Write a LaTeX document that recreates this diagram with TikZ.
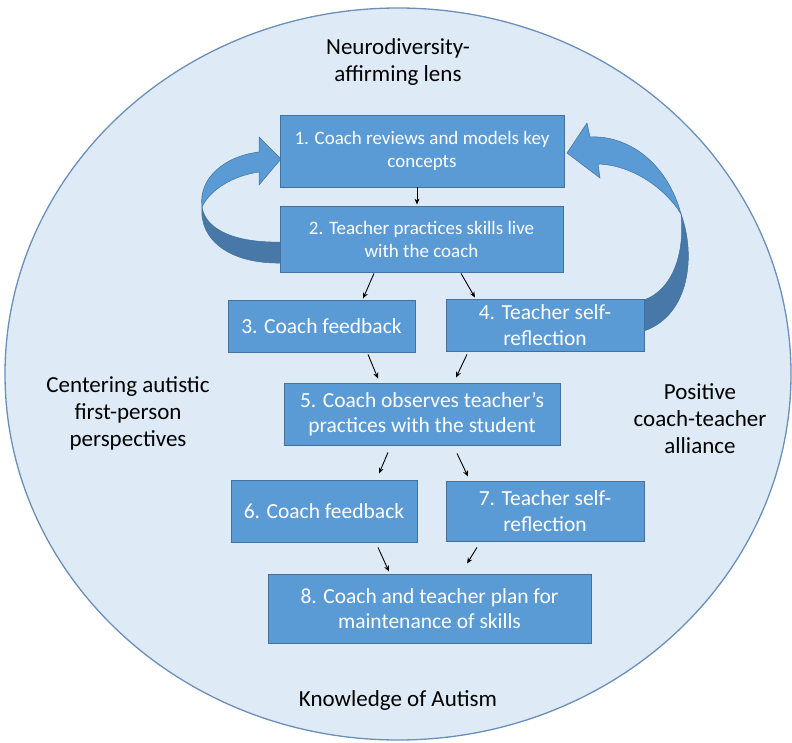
\documentclass[tikz,border=0pt]{standalone}
\usepackage{fontspec}
\setmainfont{Carlito}
\usetikzlibrary{arrows.meta}

\definecolor{ringfill}{HTML}{DEEBF7}
\definecolor{ringline}{HTML}{6A8FBA}
\definecolor{boxfill}{HTML}{5B9BD5}
\definecolor{boxline}{HTML}{41719C}
\definecolor{bandshade}{HTML}{4778A8}

\tikzset{
	stepbox/.style={draw=boxline, line width=0.8pt, fill=boxfill, text=white, align=center,
		inner sep=0pt, font=\fontsize{19}{23}\selectfont},
	bigstep/.style={stepbox, font=\fontsize{21.5}{25.5}\selectfont},
	lens/.style={align=center, text=black, font=\fontsize{23}{27}\selectfont},
	arr/.style={-{Stealth[length=6pt,width=5pt]}, line width=0.9pt, black},
	band/.style={draw=boxline, line width=0.5pt}
}

\begin{document}
\begin{tikzpicture}[x=1pt, y=-1pt]
			%%%%% START %%%%%
			\useasboundingbox (0, 0) rectangle (792, 743);
			
			\draw[fill=ringfill, draw=ringline, line width=1.3pt] (398, 374) ellipse (393 and 366);
			
			\node[lens] (top) at (398, 62) {Neurodiversity-\\affirming lens};
			\node[lens] (left) at (128, 413) {Centering autistic\\first-person\\perspectives};
			\node[lens] (right) at (700, 419) {Positive\\coach-teacher\\alliance};
			\node[lens] (bottom) at (398, 700) {Knowledge of Autism};
			
			% curved arrow on the left, back up to step 1
			\draw[band, fill=boxfill] (202, 207) .. controls (198, 178) and (225, 156) .. (259, 152)
				-- (259, 137) -- (281, 159) -- (259, 185) -- (259, 172)
				.. controls (232, 176) and (210, 190) .. (202, 207) -- cycle;
			\draw[band, fill=bandshade] (202, 207) .. controls (206, 232) and (240, 243) .. (281, 242)
				-- (281, 263) .. controls (230, 264) and (199, 240) .. (202, 207) -- cycle;
			
			% curved arrow on the right, back up to step 1
			\draw[band, fill=boxfill] (567, 153) -- (587, 123) -- (590, 137)
				.. controls (630, 135) and (668, 165) .. (681, 214)
				.. controls (665, 188) and (632, 165) .. (598, 164) -- (600, 178) -- cycle;
			\draw[band, fill=bandshade] (681, 214) .. controls (696, 255) and (690, 315) .. (644, 331)
				-- (644, 300) .. controls (672, 290) and (685, 255) .. (681, 214) -- cycle;
			
			\node[stepbox, minimum width=284, minimum height=72] (b1) at (422, 151) {1. Coach reviews and models key\\concepts};
			\node[stepbox, minimum width=283, minimum height=66] (b2) at (421.5, 239) {2. Teacher practices skills live\\with the coach};
			\node[bigstep, minimum width=187, minimum height=52] (b3) at (321.5, 326) {3. Coach feedback};
			\node[bigstep, minimum width=198, minimum height=52] (b4) at (545, 325) {4. Teacher self-\\reflection};
			\node[bigstep, minimum width=276, minimum height=62] (b5) at (422, 414) {5. Coach observes teacher’s\\practices with the student};
			\node[bigstep, minimum width=186, minimum height=62] (b6) at (324, 511) {6. Coach feedback};
			\node[bigstep, minimum width=198, minimum height=60] (b7) at (545, 511) {7. Teacher self-\\reflection};
			\node[bigstep, minimum width=323, minimum height=69] (b8) at (429.5, 608.5) {8. Coach and teacher plan for\\maintenance of skills};
			
			\draw[arr] ([xshift=-5pt]b1.south) -- ([xshift=-4.5pt, yshift=1pt]b2.north);
			\draw[arr] ([xshift=-47.5pt, yshift=-1pt]b2.south) -- ([xshift=41.5pt, yshift=1pt]b3.north);
			\draw[arr] ([xshift=39.5pt, yshift=-1pt]b2.south) -- ([xshift=-70pt, yshift=1pt]b4.north);
			\draw[arr] ([xshift=46.5pt, yshift=-2pt]b3.south) -- ([xshift=-44pt, yshift=4pt]b5.north);
			\draw[arr] ([xshift=-78pt, yshift=-3pt]b4.south) -- ([xshift=34pt, yshift=5pt]b5.north);
			\draw[arr] ([xshift=-34pt, yshift=-7pt]b5.south) -- ([xshift=55pt, yshift=6pt]b6.north);
			\draw[arr] ([xshift=35pt, yshift=-8pt]b5.south) -- ([xshift=-77pt, yshift=4pt]b7.north);
			\draw[arr] ([xshift=54pt, yshift=-5pt]b6.south) -- ([xshift=-40.5pt, yshift=2pt]b8.north);
			\draw[arr] ([xshift=-68pt, yshift=-6pt]b7.south) -- ([xshift=37.5pt, yshift=10pt]b8.north);
			%%%%% END %%%%%
\end{tikzpicture}
\end{document}
